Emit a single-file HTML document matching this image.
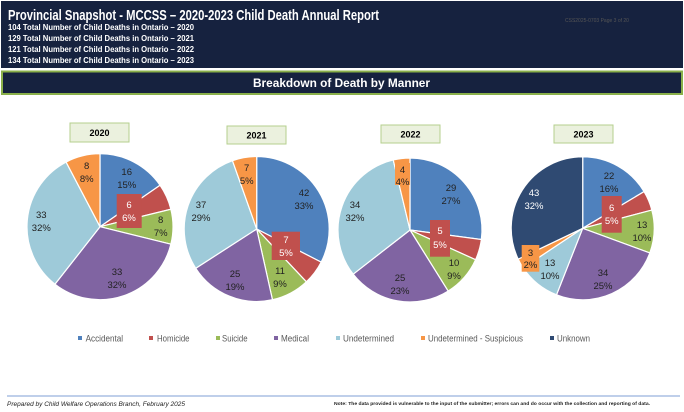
<!DOCTYPE html>
<html><head><meta charset="utf-8"><style>
html,body{margin:0;padding:0;background:#fff;}
svg{display:block;font-family:"Liberation Sans",sans-serif;}
</style></head><body>
<svg width="684" height="412" viewBox="0 0 684 412" xmlns="http://www.w3.org/2000/svg">
<rect x="1" y="1" width="682" height="67" fill="#16223F"/>
<text x="8" y="20" fill="#fff" font-size="14.5" font-weight="bold" textLength="371" lengthAdjust="spacingAndGlyphs">Provincial Snapshot - MCCSS – 2020-2023 Child Death Annual Report</text>
<g fill="#fff" font-size="8" font-weight="bold">
<text x="8" y="30" textLength="186" lengthAdjust="spacingAndGlyphs">104 Total Number of Child Deaths in Ontario – 2020</text>
<text x="8" y="41" textLength="186" lengthAdjust="spacingAndGlyphs">129 Total Number of Child Deaths in Ontario – 2021</text>
<text x="8" y="52" textLength="186" lengthAdjust="spacingAndGlyphs">121 Total Number of Child Deaths in Ontario – 2022</text>
<text x="8" y="63" textLength="186" lengthAdjust="spacingAndGlyphs">134 Total Number of Child Deaths in Ontario – 2023</text>
</g>
<text x="565" y="22" fill="#555" font-size="5">CSS2025-0703 Page 3 of 20</text>
<rect x="2" y="71.5" width="680" height="22.5" fill="#16223F" stroke="#8AB04A" stroke-width="2"/>
<text x="253" y="87" fill="#fff" font-size="11.5" font-weight="bold" textLength="177" lengthAdjust="spacingAndGlyphs">Breakdown of Death by  Manner</text>

<g id="titles" font-size="9" font-weight="bold" text-anchor="middle" fill="#000">
<rect x="70" y="123" width="59" height="19" fill="#EBF1DE" stroke="#B5CF8E"/><text x="99.5" y="136">2020</text>
<rect x="227" y="126" width="59" height="18" fill="#EBF1DE" stroke="#B5CF8E"/><text x="256.5" y="138.5">2021</text>
<rect x="381" y="125" width="59" height="18" fill="#EBF1DE" stroke="#B5CF8E"/><text x="410.5" y="137.5">2022</text>
<rect x="554" y="125" width="59" height="18" fill="#EBF1DE" stroke="#B5CF8E"/><text x="583.5" y="137.5">2023</text>
</g>
<g id="pies"></g>
<g font-size="9.5" text-anchor="middle" fill="#222">
<text x="126.7" y="175">16</text><text x="126.7" y="188">15%</text>
<text x="160.7" y="223">8</text><text x="160.7" y="236">7%</text>
<text x="41.3" y="218">33</text><text x="41.3" y="231">32%</text>
<text x="86.7" y="169">8</text><text x="86.7" y="182">8%</text>
<text x="117" y="275">33</text><text x="117" y="288">32%</text>
<text x="304" y="196">42</text><text x="304" y="209">33%</text>
<text x="280" y="274">11</text><text x="280" y="287">9%</text>
<text x="235" y="277">25</text><text x="235" y="290">19%</text>
<text x="201" y="208">37</text><text x="201" y="221">29%</text>
<text x="246.7" y="171">7</text><text x="246.7" y="184">5%</text>
<text x="451" y="191">29</text><text x="451" y="204">27%</text>
<text x="454" y="266">10</text><text x="454" y="279">9%</text>
<text x="400" y="281">25</text><text x="400" y="294">23%</text>
<text x="355" y="208">34</text><text x="355" y="221">32%</text>
<text x="609" y="179">22</text><text x="609" y="192">16%</text>
<text x="642" y="228">13</text><text x="642" y="241">10%</text>
<text x="603" y="276">34</text><text x="603" y="289">25%</text>
<text x="550" y="266">13</text><text x="550" y="279">10%</text>
<text x="534" y="196" fill="#fff">43</text><text x="534" y="209" fill="#fff">32%</text>
</g>
<g font-size="9.5" text-anchor="middle">
<rect x="116.7" y="194" width="25" height="34" fill="#C0504D"/><text x="129" y="208" fill="#fff">6</text><text x="129" y="221" fill="#fff">6%</text>
<rect x="271.7" y="231.7" width="28.3" height="28.3" fill="#C0504D"/><text x="286" y="243" fill="#fff">7</text><text x="286" y="256" fill="#fff">5%</text>
<rect x="430" y="220" width="20" height="36.7" fill="#C0504D"/><text x="440" y="234" fill="#fff">5</text><text x="440" y="248" fill="#fff">5%</text>
<rect x="601.7" y="196" width="20" height="36.7" fill="#C0504D"/><text x="611.7" y="211" fill="#fff">6</text><text x="611.7" y="224" fill="#fff">5%</text>
<rect x="395" y="163" width="15" height="22" fill="#F79646"/><text x="402.5" y="173" fill="#222">4</text><text x="402.5" y="185" fill="#222">4%</text>
<rect x="521.7" y="245" width="17.6" height="26.7" fill="#F79646"/><text x="530.5" y="256" fill="#222">3</text><text x="530.5" y="268" fill="#222">2%</text>
</g>
<g font-size="9" fill="#595959">
<rect x="78" y="336" width="4" height="4" fill="#4F81BD"/><text x="85.6" y="341.5" textLength="37.5" lengthAdjust="spacingAndGlyphs">Accidental</text>
<rect x="149" y="336" width="4" height="4" fill="#C0504D"/><text x="157" y="341.5" textLength="32.5" lengthAdjust="spacingAndGlyphs">Homicide</text>
<rect x="216" y="336" width="4" height="4" fill="#9BBB59"/><text x="222" y="341.5" textLength="25.6" lengthAdjust="spacingAndGlyphs">Suicide</text>
<rect x="274" y="336" width="4" height="4" fill="#8064A2"/><text x="281" y="341.5" textLength="28" lengthAdjust="spacingAndGlyphs">Medical</text>
<rect x="336" y="336" width="4" height="4" fill="#9ECAD9"/><text x="343" y="341.5" textLength="51" lengthAdjust="spacingAndGlyphs">Undetermined</text>
<rect x="421" y="336" width="4" height="4" fill="#F79646"/><text x="428" y="341.5" textLength="95" lengthAdjust="spacingAndGlyphs">Undetermined - Suspicious</text>
<rect x="550" y="336" width="4" height="4" fill="#2F4A72"/><text x="557" y="341.5" textLength="33" lengthAdjust="spacingAndGlyphs">Unknown</text>
</g>
<line x1="7" y1="396" x2="680" y2="396" stroke="#7F9FD4" stroke-width="1"/>
<text x="7" y="406" font-size="6.5" font-style="italic" fill="#222">Prepared by Child Welfare Operations Branch, February 2025</text>
<text x="334" y="405" font-size="4.8" font-weight="bold" fill="#222" textLength="316" lengthAdjust="spacingAndGlyphs">Note: The data provided is vulnerable to the input of the submitter; errors can and do occur with the collection and reporting of data.</text>
</svg>
<script>
const cols=["#4F81BD","#C0504D","#9BBB59","#8064A2","#9ECAD9","#F79646","#2F4A72"];
const pies=[[100,226.7,73,[16,6,8,33,33,8,0]],[256.7,229,72.5,[42,7,11,25,37,7,0]],[410,230,72,[29,5,10,25,34,4,0]],[582.7,228.3,71.5,[22,6,13,34,13,3,43]]];
let s="";
for(const [cx,cy,r,v] of pies){const t=v.reduce((a,b)=>a+b,0);let a=0;
v.forEach((x,i)=>{if(!x)return;const a0=a/t*2*Math.PI,a1=(a+x)/t*2*Math.PI;a+=x;
const p=(an)=>[cx+r*Math.sin(an),cy-r*Math.cos(an)];const [x0,y0]=p(a0),[x1,y1]=p(a1);
s+=`<path d="M${cx},${cy}L${x0},${y0}A${r},${r} 0 ${a1-a0>Math.PI?1:0} 1 ${x1},${y1}Z" fill="${cols[i]}" stroke="#fff" stroke-width="1.2"/>`;});}
document.getElementById("pies").innerHTML=s;
</script>
</body></html>
